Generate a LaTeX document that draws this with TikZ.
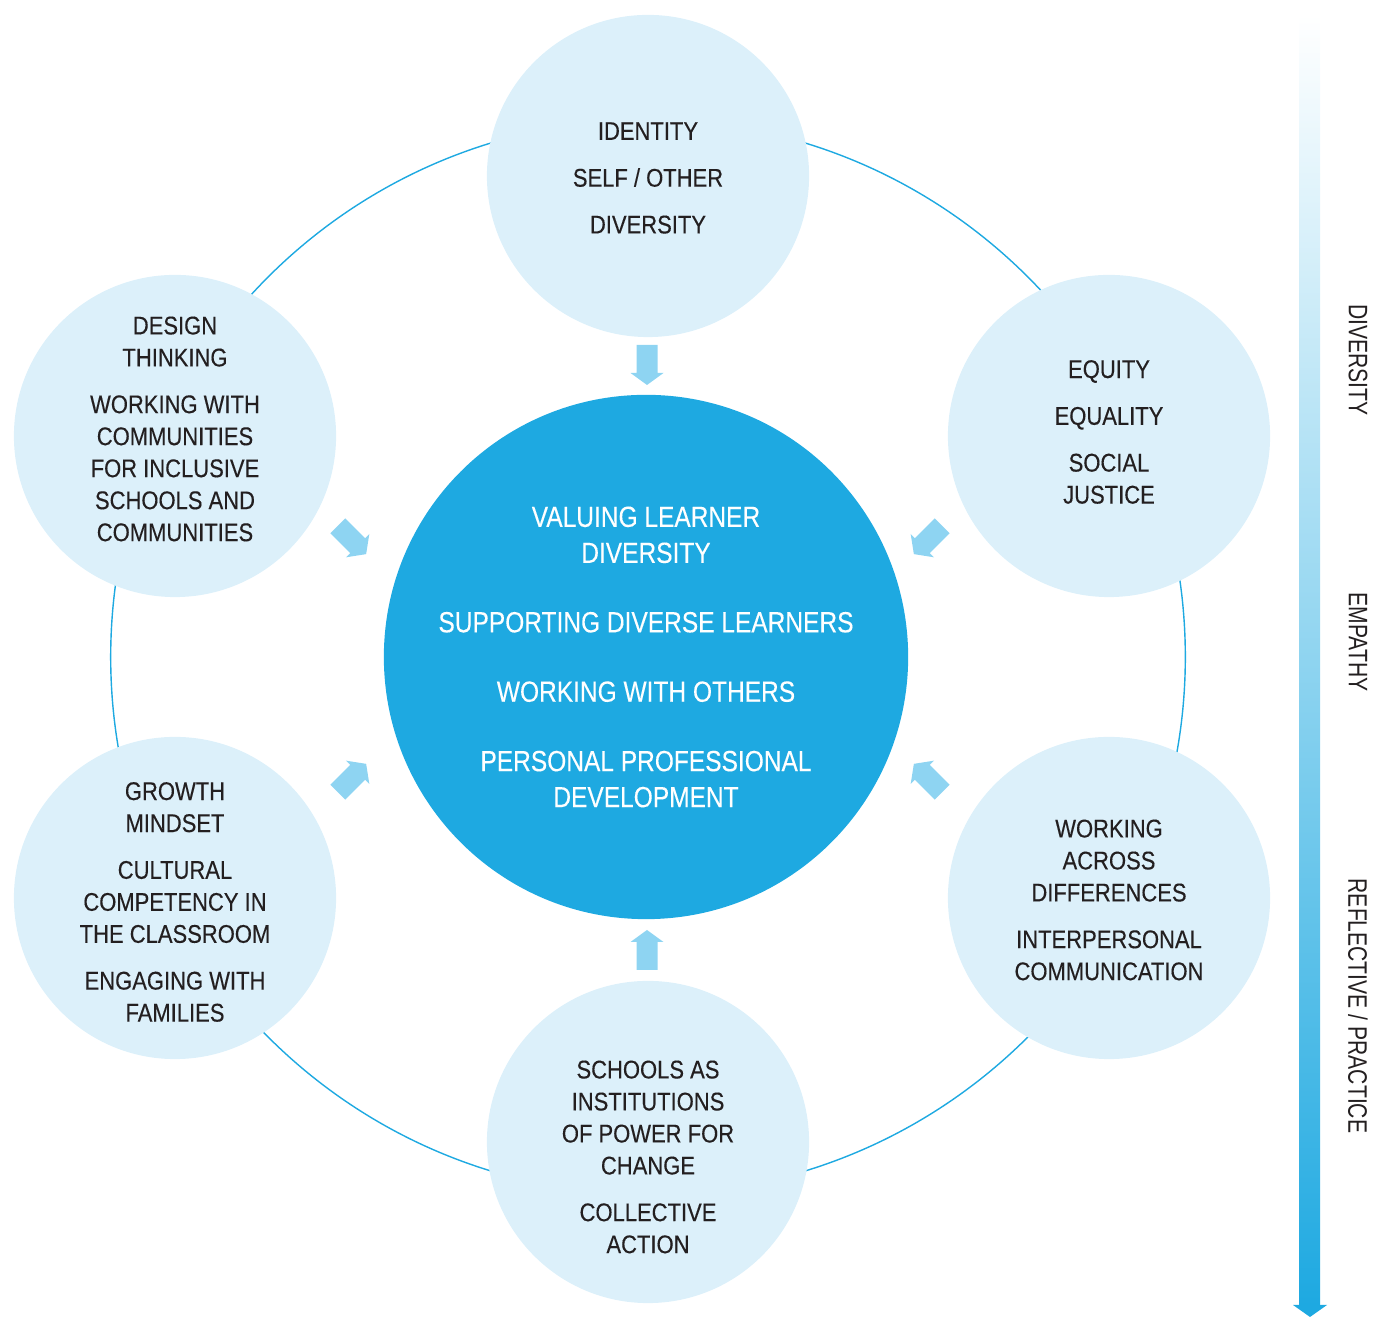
\documentclass[tikz,border=0pt]{standalone}
\usepackage{fontspec}
\setmainfont{Liberation Sans}[FakeStretch=0.86,FakeBold=0.3]
\newfontfamily\etroite{Liberation Sans}[FakeStretch=0.84,FakeBold=0.2]
\newfontfamily\axefont{Liberation Sans}[FakeStretch=0.79]
\definecolor{bleu}{HTML}{1EA9E1}
\definecolor{bleuclair}{HTML}{DCF0FA}
\definecolor{bleufleche}{HTML}{8ED4F2}
\definecolor{texte}{HTML}{231F20}

\begin{document}
\begin{tikzpicture}[x=0.01cm,y=0.01cm,
  petit/.style={circle,fill=bleuclair,minimum size=3.22cm,inner sep=0pt},
  grand/.style={circle,fill=bleu,minimum size=5.24cm,inner sep=0pt},
  petittexte/.style={align=center,text=texte,font=\fontsize{7.27}{9.1}\selectfont},
  grandtexte/.style={align=center,text=white,font=\etroite\fontsize{8.3}{10.24}\selectfont},
  axe/.style={rotate=-90,text=texte,font=\axefont\fontsize{7.6}{9}\selectfont},
  pics/fleche/.style={code={
    \fill[bleufleche] (-10.5,20) -- (10.5,20) -- (10.5,-8) -- (16.5,-8)
      -- (0,-20) -- (-16.5,-8) -- (-10.5,-8) -- cycle;}}]

  \useasboundingbox (0,0) rectangle (1373,1334);

  % Tracer l'anneau
  \coordinate (centre) at (646,677);
  \draw[bleu, line width=0.4pt] (648,677) circle[radius=5.37cm];

  % Les cercles
  \node[grand] (val) at (centre) {};
  \node[petit] (haut) at (648,1158) {};
  \node[petit] (hg) at (175,898) {};
  \node[petit] (hd) at (1109,898) {};
  \node[petit] (bg) at (175,436) {};
  \node[petit] (bd) at (1109,436) {};
  \node[petit] (bas) at (648,192) {};

  % Les textes
  \node[grandtexte] (tval) at (centre) {VALUING LEARNER\\DIVERSITY\\[9.5pt]SUPPORTING DIVERSE LEARNERS\\[9.5pt]WORKING WITH OTHERS\\[9.5pt]PERSONAL PROFESSIONAL\\DEVELOPMENT};
  \node[petittexte] (thaut) at ([yshift=-0.02cm]haut) {IDENTITY\\[4.2pt]SELF / OTHER\\[4.2pt]DIVERSITY};
  \node[petittexte] (thg) at ([yshift=0.07cm]hg) {DESIGN\\THINKING\\[4.2pt]WORKING WITH\\COMMUNITIES\\FOR INCLUSIVE\\SCHOOLS AND\\COMMUNITIES};
  \node[petittexte] (thd) at ([yshift=0.04cm]hd) {EQUITY\\[4.2pt]EQUALITY\\[4.2pt]SOCIAL\\JUSTICE};
  \node[petittexte] (tbg) at ([yshift=-0.04cm]bg) {GROWTH\\MINDSET\\[4.2pt]CULTURAL\\COMPETENCY IN\\THE CLASSROOM\\[4.2pt]ENGAGING WITH\\FAMILIES};
  \node[petittexte] (tbd) at ([yshift=-0.02cm]bd) {WORKING\\ACROSS\\DIFFERENCES\\[4.2pt]INTERPERSONAL\\COMMUNICATION};
  \node[petittexte] (tbas) at ([yshift=-0.15cm]bas) {SCHOOLS AS\\INSTITUTIONS\\OF POWER FOR\\CHANGE\\[4.2pt]COLLECTIVE\\ACTION};

  % Les fleches vers le centre
  \pic (fhaut) at (647,969) {fleche};
  \pic[rotate=180] (fbas) at (647,384) {fleche};
  \pic[rotate=45] (fhg) at (352,794) {fleche};
  \pic[rotate=-45] (fhd) at (928,794) {fleche};
  \pic[rotate=135] (fbg) at (352,556) {fleche};
  \pic[rotate=-135] (fbd) at (928,556) {fleche};

  % Fleche en degrade a droite
  \shade[top color=white, bottom color=bleu] (1299,29) rectangle (1320,1319);
  \fill[bleu] (1293,29) -- (1327,29) -- (1310,17) -- cycle;
  \node[axe] (ax1) at (1358,974) {DIVERSITY};
  \node[axe] (ax2) at (1358,692) {EMPATHY};
  \node[axe] (ax3) at (1358,328) {REFLECTIVE / PRACTICE};

\end{tikzpicture}
\end{document}
